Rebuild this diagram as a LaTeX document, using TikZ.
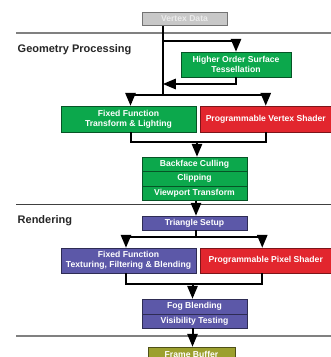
\documentclass[tikz,border=0pt]{standalone}
\usepackage{fontspec}
\setmainfont{Liberation Sans}
\usepackage{xcolor}
\usetikzlibrary{arrows,positioning}

\definecolor{stagegreen}{RGB}{12,168,76}
\definecolor{stagered}{RGB}{226,38,46}
\definecolor{stageblue}{RGB}{92,88,168}
\definecolor{stageolive}{RGB}{156,160,46}
\definecolor{stagegray}{RGB}{200,200,200}

\begin{document}
\begin{tikzpicture}[x=1pt,y=-1pt,>=triangle 45,
stage/.style={rectangle,draw=black!60,line width=0.8pt,inner sep=0pt,text=white,
font=\fontsize{8.6}{10}\selectfont\bfseries,align=center},
geom/.style={stage,fill=stagegreen,draw=stagegreen!50!black},
vshader/.style={stage,fill=stagered,draw=stagered!55!black},
raster/.style={stage,fill=stageblue,draw=stageblue!50!black},
output/.style={stage,fill=stageolive,draw=stageolive!50!black},
flow/.style={line width=2pt,black},
divider/.style={line width=2pt,black!50},
section/.style={anchor=west,inner sep=0pt,text=black!85,font=\fontsize{11}{13}\selectfont\bfseries}]
    \useasboundingbox (0,0) rectangle (331,357);
    % section dividers
    \draw[divider] (16,33) -- (331,33);
    \draw[line width=1pt,black!75] (16,204.3) -- (331,204.3);
    \draw[divider] (16,336) -- (331,336);
    \node[section] (geomlbl) at (17.5,49.5) {Geometry Processing};
    \node[section] (rendlbl) at (17.5,220.8) {Rendering};
    % stages
    \node[stage,fill=stagegray,draw=black!55,text=black!8,minimum width=85pt,minimum height=13.5pt] (vdata) at (184.5,18.75) {Vertex Data};
    \node[geom,minimum width=110pt,minimum height=25pt] (hos) at (236,64.5) {Higher Order Surface\\Tessellation};
    \node[geom,minimum width=135pt,minimum height=26pt] (fftl) at (128.5,119) {Fixed Function\\Transform \& Lighting};
    \node[vshader,minimum width=131.5pt,minimum height=26pt] (pvs) at (265.75,119) {Programmable Vertex Shader};
    \node[geom,minimum width=105pt,minimum height=14.5pt] (cull) at (194.5,164.25) {Backface Culling};
    \node[geom,minimum width=105pt,minimum height=14.5pt] (clip) at (194.5,178.75) {Clipping};
    \node[geom,minimum width=105pt,minimum height=14.5pt] (vport) at (194.5,193.25) {Viewport Transform};
    \node[raster,minimum width=105pt,minimum height=14pt] (tri) at (194.5,223) {Triangle Setup};
    \node[raster,minimum width=135pt,minimum height=25pt] (fftex) at (128.5,260.5) {Fixed Function\\Texturing, Filtering \& Blending};
    \node[vshader,minimum width=131.5pt,minimum height=25pt] (pps) at (265.75,260.5) {Programmable Pixel Shader};
    \node[raster,minimum width=105pt,minimum height=15pt] (fog) at (194.5,306.5) {Fog Blending};
    \node[raster,minimum width=105pt,minimum height=14pt] (vis) at (194.5,321) {Visibility Testing};
    \node[output,minimum width=87pt,minimum height=15pt] (fb) at (191.5,354.5) {Frame Buffer};
    % junctions
    \coordinate (tess) at (163,41);
    \coordinate (back) at (163,84);
    \coordinate (split) at (163,95);
    \coordinate (gjoin) at (197,142);
    \coordinate (rsplit) at (196,237);
    \coordinate (rjoin) at (192.5,284);
    % geometry flow
    \draw[flow] (vdata.south -| split) -- (split);
    \draw[flow,->] (tess) -| (hos.north);
    \draw[flow,->] (hos.south) |- (back);
    \draw[flow,->] (split) -| ([xshift=2pt]fftl.north);
    \draw[flow,->] (split) -| (pvs.north);
    \draw[flow] ([xshift=2pt]fftl.south) -- ++(0,10) -| (pvs.south);
    \draw[flow,->] (gjoin) -- (gjoin |- cull.north);
    \draw[flow,->] (vport.south -| rsplit) -- (tri.north -| rsplit);
    % rendering flow
    \draw[flow] (tri.south -| rsplit) -- (rsplit);
    \draw[flow,->] (rsplit) -| ([xshift=-2.5pt]fftex.north);
    \draw[flow,->] (rsplit) -| ([xshift=-3.5pt]pps.north);
    \draw[flow] ([xshift=-2.5pt]fftex.south) -- ++(0,11) -| ([xshift=-3.5pt]pps.south);
    \draw[flow,->] (rjoin) -- (rjoin |- fog.north);
    \draw[flow,->] (vis.south -| rjoin) -- (fb.north -| rjoin);
\end{tikzpicture}
\end{document}
